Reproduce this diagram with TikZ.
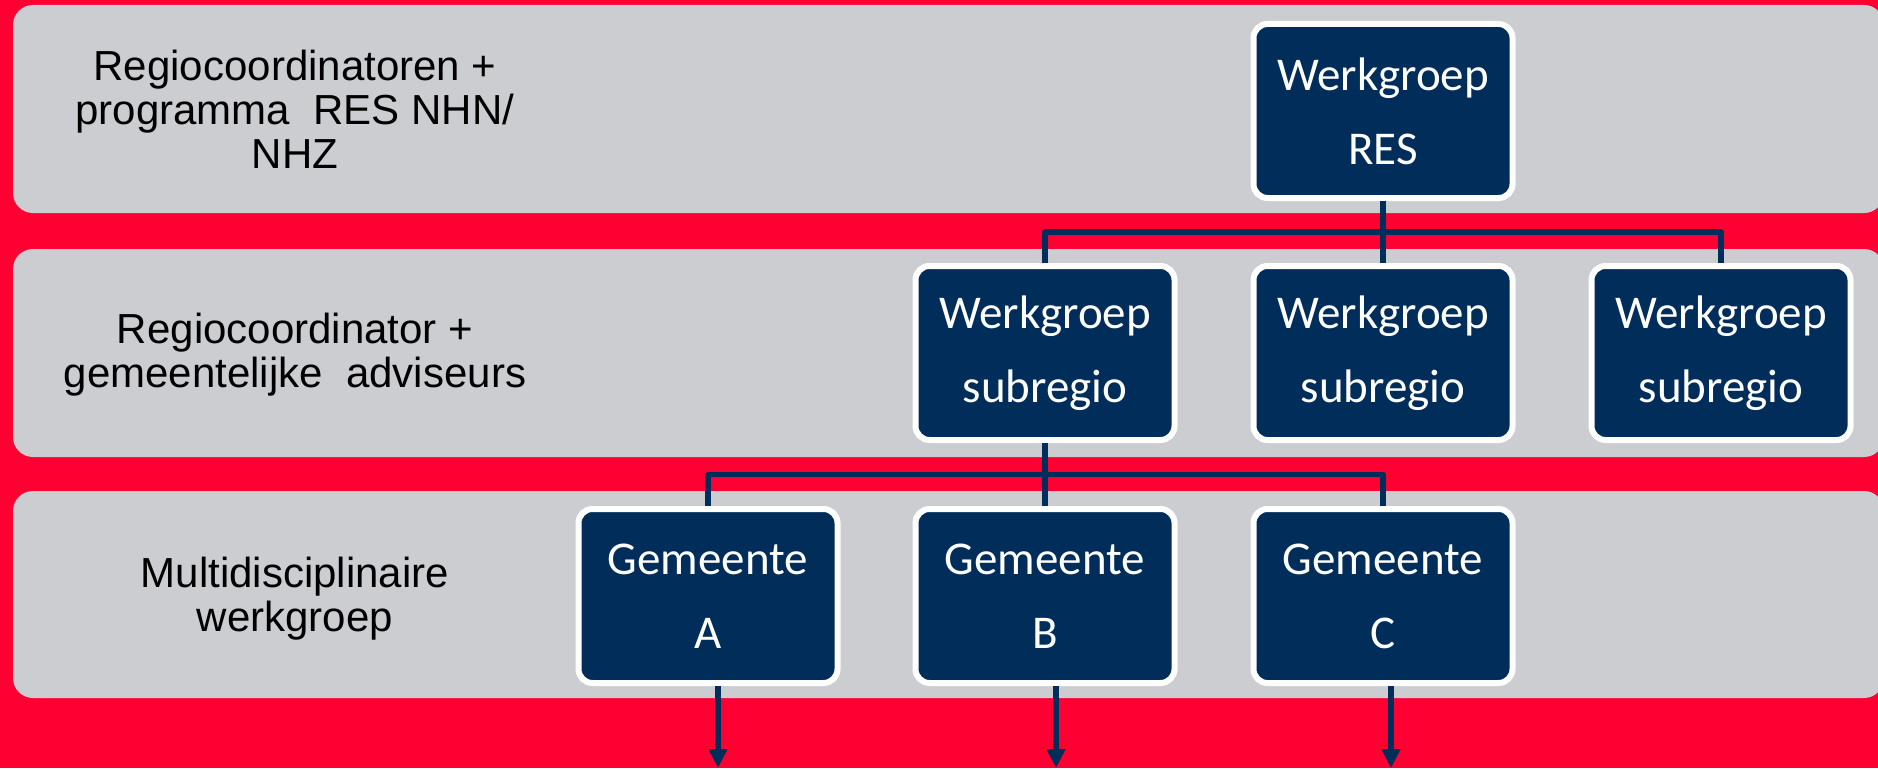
\documentclass[tikz,border=0pt]{standalone}
\usepackage{fontspec}
\setmainfont{Liberation Sans}
\newfontfamily\boxfont{Carlito}
\usetikzlibrary{arrows.meta,calc}
\definecolor{resred}{HTML}{FF0033}
\definecolor{bandgray}{HTML}{CCCDD1}
\definecolor{resblue}{HTML}{002D5A}

\begin{document}
\begin{tikzpicture}[
      x=1pt, y=-1pt,
      band/.style={fill=bandgray, rounded corners=20pt},
      wg/.style={
        rectangle,
        rounded corners=14pt,
        fill=resblue,
        draw=white,
        line width=6pt,   % white rim round the dark box
        text=white,
        minimum width=259pt,
        minimum height=174pt,
        align=center,
        font=\boxfont\fontsize{47}{74}\selectfont
      },
      lbl/.style={align=center, font=\fontsize{42}{44}\selectfont},
      link/.style={draw=resblue, line width=5.5pt, line join=round},
      down/.style={link, line width=6pt, -{Triangle[width=18pt,length=19pt]}}
    ]
      \useasboundingbox (0,0) rectangle (1878,768);
      \fill[resred] (0,0) rectangle (1878,768);
      \foreach \ya/\yb in {5/213, 249/457, 491/698}
        \fill[band] (13,\ya) rectangle (1884,\yb);

      % level labels
      \node[lbl] (lvl1) at (295,109) {Regiocoordinatoren +\\programma\ \ RES NHN/\\NHZ};
      \node[lbl] (lvl2) at (295,355) {Regiocoordinator +\\gemeentelijke\ \ adviseurs};
      \node[lbl] (lvl3) at (295,599) {Multidisciplinaire\\werkgroep};

      % boxes
      \node[wg] (res) at (1383,111) {Werkgroep\\RES};
      \node[wg] (sub1) at (1045,353) {Werkgroep\\subregio};
      \node[wg] (sub2) at (1383,353) {Werkgroep\\subregio};
      \node[wg] (sub3) at (1721,353) {Werkgroep\\subregio};
      \node[wg] (gemA) at (708,596) {Gemeente\\A};
      \node[wg] (gemB) at (1045,596) {Gemeente\\B};
      \node[wg] (gemC) at (1383,596) {Gemeente\\C};

      \coordinate (outA) at (718,768);
      \coordinate (outB) at (1056,768);
      \coordinate (outC) at (1391,768);

      \draw[link] (res) -- (sub2);
      \draw[link] (sub1.north) |- ($(res.south)!.5!(sub2.north)$) -| (sub3.north);
      \draw[link] (sub1) -- (gemB);
      \draw[link] (gemA.north) |- ($(sub1.south)!.5!(gemB.north)$) -| (gemC.north);

      \draw[down] (gemA.south -| outA) -- (outA);
      \draw[down] (gemB.south -| outB) -- (outB);
      \draw[down] (gemC.south -| outC) -- (outC);
    \end{tikzpicture}
\end{document}
